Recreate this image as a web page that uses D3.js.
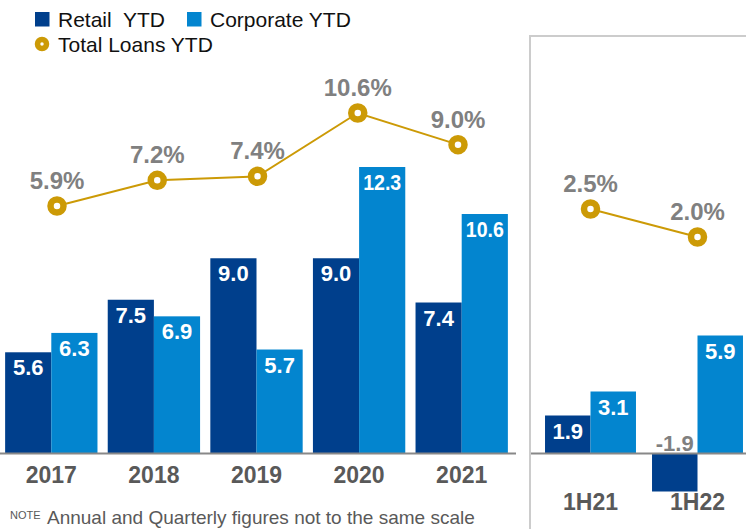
<!DOCTYPE html>
<html>
<head>
<meta charset="utf-8">
<script src="https://cdn.jsdelivr.net/npm/d3@7"></script>
<style>
    body { margin: 0; background: #fff; }
    svg { display: block; font-family: "Liberation Sans", Arial, sans-serif; }
</style>
</head>
<body>
<div id="chart"></div>
<script>
// Annual figures (left panel).
const years = ['2017', '2018', '2019', '2020', '2021'];
const retailYTD = [5.6, 7.5, 9.0, 9.0, 7.4];
const corporateYTD = [6.3, 6.9, 5.7, 12.3, 10.6];
const totalLoansYTD = [5.9, 7.2, 7.4, 10.6, 9.0];

// Half-year figures (right panel).
const halves = ['1H21', '1H22'];
const retailHalf = [1.9, -1.9];
const corporateHalf = [3.1, 5.9];
const totalLoansHalf = [2.5, 2.0];

const seriesKeys = ['retail', 'corporate'];
const seriesNames = ['Retail  YTD', 'Corporate YTD', 'Total Loans YTD'];

const W = 746, H = 529;
const COLORS = { retail: '#003f8c', corporate: '#0385cf', total: '#cc9a06' };
const GREY_LABEL = '#808080';
const GREY_AXIS = '#595959';

const svg = d3.select('#chart').append('svg').attr('width', W).attr('height', H);

function rows(cats, retail, corporate, total) {
    return cats.map((c, i) => ({ cat: c, retail: retail[i], corporate: corporate[i], total: total[i] }));
}

const annual = rows(years, retailYTD, corporateYTD, totalLoansYTD);
const half = rows(halves, retailHalf, corporateHalf, totalLoansHalf);

const BASE = 453.5;

// Panel border for the half-year part.
svg.append('path')
    .attr('d', `M530,${H}V36H${W}`)
    .attr('fill', 'none')
    .attr('stroke', '#cccccc')
    .attr('stroke-width', 2);

function drawPanel(data, opts) {
    const x = d3.scaleBand().domain(data.map(d => d.cat)).range(opts.xRange)
        .paddingInner(opts.padInner).paddingOuter(opts.padOuter);
    const xSub = d3.scaleBand().domain(seriesKeys).range([0, x.bandwidth()]);
    const y = opts.yBars;
    const yLine = opts.yLine;
    // The line markers don't sit exactly on the bar groups in the original.
    const xPt = opts.lineRange
        ? d3.scalePoint().domain(data.map(d => d.cat)).range(opts.lineRange)
        : (c => x(c) + x.bandwidth() / 2);

    const g = svg.append('g');
    const groups = g.selectAll('g.group').data(data).join('g')
        .attr('class', 'group')
        .attr('transform', d => `translate(${x(d.cat)},0)`);

    const bars = groups.selectAll('g.bar')
        .data(d => seriesKeys.map(k => ({ key: k, value: d[k] })))
        .join('g').attr('class', 'bar');

    bars.append('rect')
        .attr('x', d => xSub(d.key))
        .attr('width', xSub.bandwidth())
        .attr('y', d => Math.min(y(d.value), y(opts.zero)))
        .attr('height', d => Math.abs(y(d.value) - y(opts.zero)))
        .attr('fill', d => COLORS[d.key]);

    // Axis line.
    g.append('line')
        .attr('x1', opts.axisX[0]).attr('x2', opts.axisX[1])
        .attr('y1', BASE).attr('y2', BASE)
        .attr('stroke', '#888888').attr('stroke-width', 2);

    // Value labels.
    bars.append('text')
        .attr('x', d => xSub(d.key) + xSub.bandwidth() / 2)
        .attr('y', d => d.value >= 0 ? y(d.value) + 23 : y(opts.zero) - 3)
        .attr('text-anchor', 'middle')
        .attr('font-size', 22)
        .attr('font-weight', 'bold')
        .attr('fill', d => d.value >= 0 ? '#ffffff' : GREY_LABEL)
        .each(function (d) {
            const s = d.value.toFixed(1);
            if (s.length > 3 && d.value >= 0) {
                d3.select(this).attr('textLength', 38).attr('lengthAdjust', 'spacingAndGlyphs');
            }
        })
        .text(d => d.value.toFixed(1));

    // Category labels.
    g.selectAll('text.cat').data(data).join('text')
        .attr('class', 'cat')
        .attr('x', d => x(d.cat) + x.bandwidth() / 2)
        .attr('y', opts.catY)
        .attr('text-anchor', 'middle')
        .attr('font-size', 23)
        .attr('font-weight', 'bold')
        .attr('fill', GREY_AXIS)
        .text(d => d.cat);

    // Total loans line.
    const line = d3.line()
        .x(d => xPt(d.cat))
        .y(d => yLine(d.total));

    g.append('path')
        .datum(data)
        .attr('d', line)
        .attr('fill', 'none')
        .attr('stroke', COLORS.total)
        .attr('stroke-width', 2);

    g.selectAll('circle.pt').data(data).join('circle')
        .attr('class', 'pt')
        .attr('cx', d => xPt(d.cat))
        .attr('cy', d => yLine(d.total))
        .attr('r', 6.5)
        .attr('fill', '#ffffff')
        .attr('stroke', COLORS.total)
        .attr('stroke-width', 6.5);

    g.selectAll('text.pct').data(data).join('text')
        .attr('class', 'pct')
        .attr('x', d => xPt(d.cat))
        .attr('y', d => yLine(d.total) - 17)
        .attr('text-anchor', 'middle')
        .attr('font-size', 24)
        .attr('font-weight', 'bold')
        .attr('fill', GREY_LABEL)
        .text(d => d.total.toFixed(1) + '%');
}

drawPanel(annual, {
    xRange: [0, 513], padInner: 0.1, padOuter: 0.05,
    yBars: d3.scaleLinear().domain([1.94, 12.3]).range([BASE, 167]),
    zero: 1.94,
    yLine: d3.scaleLinear().domain([5.9, 10.6]).range([206, 113]),
    lineRange: [57, 458],
    axisX: [0, 516],
    catY: 483
});

drawPanel(half, {
    xRange: [537, 751], padInner: 0.15, padOuter: 0.075,
    yBars: d3.scaleLinear().domain([0, 5.9]).range([BASE, 335.5]),
    zero: 0,
    yLine: d3.scaleLinear().domain([2.0, 2.5]).range([237, 209]),
    axisX: [531, W],
    catY: 510
});

// Legend.
const legend = svg.append('g').attr('font-size', 21).attr('fill', '#111111');
const legendItems = [
    { name: seriesNames[0], key: 'retail', x: 35, y: 12 },
    { name: seriesNames[1], key: 'corporate', x: 187, y: 12 }
];
legendItems.forEach(it => {
    legend.append('rect').attr('x', it.x).attr('y', it.y).attr('width', 14.5).attr('height', 14.5)
        .attr('fill', COLORS[it.key]);
    legend.append('text').attr('x', it.x + 23).attr('y', it.y + 15).attr('xml:space', 'preserve')
        .text(it.name);
});
legend.append('circle').attr('cx', 42).attr('cy', 44).attr('r', 4.5)
    .attr('fill', '#ffffff').attr('stroke', COLORS.total).attr('stroke-width', 5.5);
legend.append('text').attr('x', 58).attr('y', 52).text(seriesNames[2]);

// Footnote along the bottom edge.
const note = svg.append('g').attr('fill', GREY_AXIS);
note.append('text').attr('x', 10).attr('y', 519).attr('font-size', 11).text('NOTE');
note.append('text').attr('x', 47).attr('y', 524).attr('font-size', 19)
    .text('Annual and Quarterly figures not to the same scale');
</script>
</body>
</html>
